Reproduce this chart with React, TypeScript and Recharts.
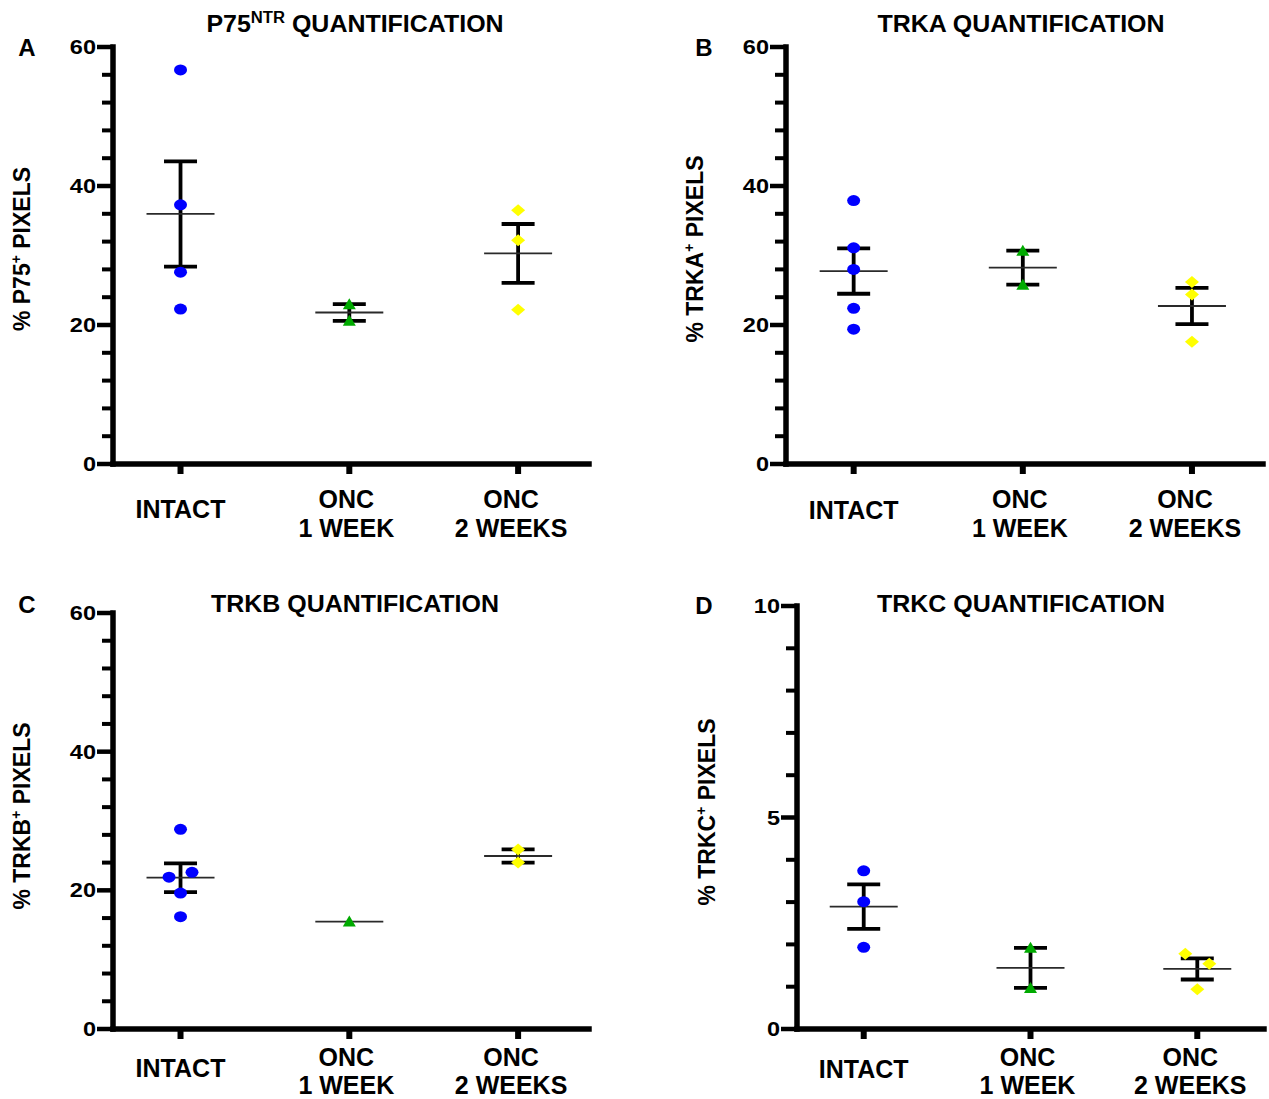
import React from 'react';
import { ScatterChart, Scatter, XAxis, YAxis, ErrorBar } from 'recharts';

const FONT = '"Liberation Sans", Arial, Helvetica, sans-serif';
const COLORS = ['#0000FF', '#00AA00', '#FFFF00'];
const CATEGORY_LINES = [['INTACT'], ['ONC', '1 WEEK'], ['ONC', '2 WEEKS']];
const CATEGORY_DX = [0, -3, -7];

// A - P75NTR (% pixels)
const p75Intact = [56.7, 37.3, 27.6, 22.3];
const p75Onc1 = [23.0, 20.6];
const p75Onc2 = [36.5, 32.2, 22.2];

// B - TRKA
const trkaIntact = [37.9, 31.1, 28.0, 22.4, 19.4];
const trkaOnc1 = [30.7, 25.8];
const trkaOnc2 = [26.2, 24.4, 17.6];

// C - TRKB
const trkbIntact = [28.8, 21.9, 22.6, 19.6, 16.2];
const trkbOnc1 = [15.5];
const trkbOnc2 = [25.9, 24.0];

// D - TRKC
const trkcIntact = [3.74, 3.01, 1.93];
const trkcOnc1 = [1.92, 0.97];
const trkcOnc2 = [1.78, 1.54, 0.94];

// side-by-side offsets of overlapping points (in category widths)
const trkbIntactJitter = [0, -0.068, 0.068, 0, 0];
const trkcOnc2Jitter = [-0.072, 0.072, 0];

const TICKS_PCT = [0, 4, 8, 12, 16, 20, 24, 28, 32, 36, 40, 44, 48, 52, 56, 60];
const TICKS_TRKC = [0, 1, 2, 3, 4, 5, 6, 7, 8, 9, 10];

const avg = (a: number[]) => a.reduce((s, v) => s + v, 0) / a.length;
const sem = (a: number[]) => {
  if (a.length < 2) return undefined;
  const m = avg(a);
  const sd = Math.sqrt(a.reduce((s, v) => s + (v - m) ** 2, 0) / (a.length - 1));
  return sd / Math.sqrt(a.length);
};

const toPoints = (values: number[], group: number, jitter?: number[]) =>
  values.map((v, i) => ({ x: group + (jitter ? jitter[i] : 0), y: v }));

const Dot = (p: any) => <ellipse cx={p.cx} cy={p.cy} rx={6.5} ry={5.5} fill={p.fill} />;
const Tri = (p: any) => (
  <polygon points={`${p.cx},${p.cy - 6} ${p.cx + 6.5},${p.cy + 5} ${p.cx - 6.5},${p.cy + 5}`} fill={p.fill} />
);
const Dia = (p: any) => (
  <polygon points={`${p.cx},${p.cy - 6} ${p.cx + 7},${p.cy} ${p.cx},${p.cy + 6} ${p.cx - 7},${p.cy}`} fill={p.fill} />
);
const SHAPES = [Dot, Tri, Dia];

const MeanLine = (p: any) => (
  <line x1={p.cx - 34} x2={p.cx + 34} y1={p.cy} y2={p.cy} stroke="#2a2a2a" strokeWidth={1.8} />
);

function YTick(props: any) {
  const { x, y, payload, majorStep } = props;
  const v = payload.value;
  const major = v % majorStep === 0;
  return (
    <g>
      <line x1={x - (major ? 16 : 11)} x2={x} y1={y} y2={y} stroke="#000" strokeWidth={major ? 4.5 : 4} />
      {major && (
        <text
          x={x - 17}
          y={y}
          textAnchor="end"
          dominantBaseline="central"
          fontFamily={FONT}
          fontWeight="bold"
          fontSize={21}
          fill="#000"
          style={{ transformBox: 'fill-box', transformOrigin: 'right center', transform: 'scaleX(1.12)' }}
        >
          {v}
        </text>
      )}
    </g>
  );
}

function XTick(props: any) {
  const { x, y, payload, dy1, dy2, gap } = props;
  const lines = CATEGORY_LINES[payload.value];
  if (!lines) return null;
  const cx = x + CATEGORY_DX[payload.value];
  const txt = (s: string, yy: number, k: number) => (
    <text key={k} x={cx} y={yy} textAnchor="middle" dominantBaseline="central"
      fontFamily={FONT} fontWeight="bold" fontSize={25} fill="#000">
      {s}
    </text>
  );
  return (
    <g>
      <line x1={x} x2={x} y1={y} y2={y + 10} stroke="#000" strokeWidth={6} />
      {lines.length === 1 ? txt(lines[0], y + dy1, 0) : lines.map((s, i) => txt(s, y + dy2 + i * gap, i))}
    </g>
  );
}

type Panel = {
  letter: string;
  title: React.ReactNode;
  yLabel: React.ReactNode;
  groups: number[][];
  jitter: (number[] | undefined)[];
  ticks: number[];
  majorStep: number;
  yMax: number;
  box: { left: number; top: number; width: number; height: number };
  plot: { left: number; right: number; top: number; bottom: number };
  xMax: number;
  dy1: number;
  dy2: number;
  gap: number;
  titlePos: [number, number];
  letterPos: [number, number];
  yLabelPos: [number, number];
};

const sup = (s: string, size = 14) => (
  <span style={{ fontSize: size, verticalAlign: 'super', lineHeight: 0 }}>{s}</span>
);

const PANELS: Panel[] = [
  {
    letter: 'A',
    title: <>P75{sup('NTR', 16)} QUANTIFICATION</>,
    yLabel: <>% P75{sup('+')} PIXELS</>,
    groups: [p75Intact, p75Onc1, p75Onc2],
    jitter: [undefined, undefined, undefined],
    ticks: TICKS_PCT, majorStep: 20, yMax: 60,
    box: { left: 0, top: 0, width: 634, height: 560 },
    plot: { left: 113, right: 589, top: 47, bottom: 464 },
    xMax: 2.42, dy1: 45, dy2: 35, gap: 29,
    titlePos: [355, 24], letterPos: [27, 48], yLabelPos: [22, 249],
  },
  {
    letter: 'B',
    title: <>TRKA QUANTIFICATION</>,
    yLabel: <>% TRKA{sup('+')} PIXELS</>,
    groups: [trkaIntact, trkaOnc1, trkaOnc2],
    jitter: [undefined, undefined, undefined],
    ticks: TICKS_PCT, majorStep: 20, yMax: 60,
    box: { left: 634, top: 0, width: 635, height: 560 },
    plot: { left: 786, right: 1263, top: 47, bottom: 464 },
    xMax: 2.42, dy1: 46, dy2: 35, gap: 29,
    titlePos: [1021, 24], letterPos: [704, 48], yLabelPos: [695, 249],
  },
  {
    letter: 'C',
    title: <>TRKB QUANTIFICATION</>,
    yLabel: <>% TRKB{sup('+')} PIXELS</>,
    groups: [trkbIntact, trkbOnc1, trkbOnc2],
    jitter: [trkbIntactJitter, undefined, undefined],
    ticks: TICKS_PCT, majorStep: 20, yMax: 60,
    box: { left: 0, top: 560, width: 634, height: 539 },
    plot: { left: 113, right: 589, top: 613, bottom: 1029 },
    xMax: 2.42, dy1: 39, dy2: 28, gap: 28,
    titlePos: [355, 604], letterPos: [27, 605], yLabelPos: [22, 816],
  },
  {
    letter: 'D',
    title: <>TRKC QUANTIFICATION</>,
    yLabel: <>% TRKC{sup('+')} PIXELS</>,
    groups: [trkcIntact, trkcOnc1, trkcOnc2],
    jitter: [undefined, undefined, trkcOnc2Jitter],
    ticks: TICKS_TRKC, majorStep: 5, yMax: 10,
    box: { left: 634, top: 560, width: 635, height: 539 },
    plot: { left: 797, right: 1264, top: 606, bottom: 1029 },
    xMax: 2.4, dy1: 40, dy2: 28, gap: 28,
    titlePos: [1021, 604], letterPos: [704, 606], yLabelPos: [707, 812],
  },
];

const Y_W = 80;
const X_H = 72;

function PanelChart({ p }: { p: Panel }) {
  const { box, plot } = p;
  const margin = {
    top: plot.top - box.top,
    left: plot.left - box.left - Y_W,
    right: box.left + box.width - plot.right,
    bottom: box.top + box.height - plot.bottom - X_H,
  };
  const means = p.groups.map((g, i) => ({ x: i, y: avg(g), err: sem(g) }));
  const axisLine = { stroke: '#000', strokeWidth: 5.5, strokeLinecap: 'square' as const };
  return (
    <>
      <div style={{ position: 'absolute', left: box.left, top: box.top }}>
        <ScatterChart width={box.width} height={box.height} margin={margin} style={{ overflow: 'visible' }}>
          <XAxis
            type="number" dataKey="x" domain={[-0.4, p.xMax]} ticks={[0, 1, 2]} interval={0}
            height={X_H} tickSize={0} tickMargin={0} tickLine={false} axisLine={axisLine}
            tick={(t: any) => <XTick {...t} dy1={p.dy1} dy2={p.dy2} gap={p.gap} />}
          />
          <YAxis
            type="number" dataKey="y" domain={[0, p.yMax]} ticks={p.ticks} interval={0}
            width={Y_W} tickSize={0} tickMargin={0} tickLine={false} axisLine={axisLine}
            tick={(t: any) => <YTick {...t} majorStep={p.majorStep} />}
          />
          <Scatter data={means} shape={MeanLine} isAnimationActive={false}>
            <ErrorBar dataKey="err" direction="y" width={16.5} stroke="#000" strokeWidth={3.8} />
          </Scatter>
          {p.groups.map((g, i) => (
            <Scatter
              key={i}
              data={toPoints(g, i, p.jitter[i])}
              fill={COLORS[i]}
              shape={SHAPES[i]}
              isAnimationActive={false}
            />
          ))}
        </ScatterChart>
      </div>
      <div style={{
        position: 'absolute', left: p.titlePos[0], top: p.titlePos[1], transform: 'translate(-50%,-50%) scaleX(1.04)',
        fontSize: 24, fontWeight: 700, lineHeight: 1, whiteSpace: 'nowrap',
      }}>
        {p.title}
      </div>
      <div style={{
        position: 'absolute', left: p.letterPos[0], top: p.letterPos[1], transform: 'translate(-50%,-50%)',
        fontSize: 24, fontWeight: 700, lineHeight: 1,
      }}>
        {p.letter}
      </div>
      <div style={{
        position: 'absolute', left: p.yLabelPos[0], top: p.yLabelPos[1], transform: 'translate(-50%,-50%) rotate(-90deg)',
        fontSize: 23, fontWeight: 700, lineHeight: 1, whiteSpace: 'nowrap',
      }}>
        {p.yLabel}
      </div>
    </>
  );
}

export default function App() {
  return (
    <div style={{
      position: 'absolute', left: 0, top: 0, width: 1269, height: 1099, background: '#fff',
      fontFamily: FONT, color: '#000', overflow: 'hidden',
    }}>
      {PANELS.map((p) => <PanelChart key={p.letter} p={p} />)}
    </div>
  );
}
